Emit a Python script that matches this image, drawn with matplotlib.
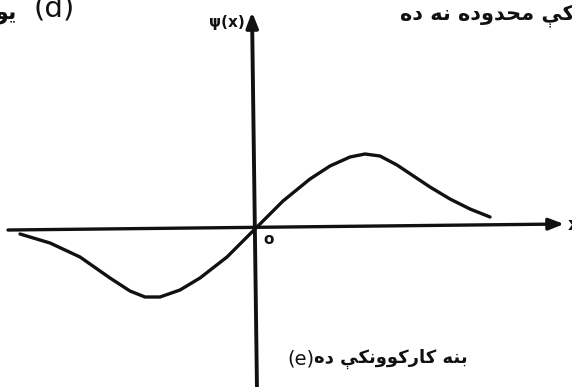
import matplotlib
matplotlib.use("Agg")
import matplotlib.pyplot as plt

# Wave function psi(x): odd, with one trough left of the origin and one crest to the right
x_vals = [-2.35, -2.05, -1.75, -1.45, -1.25, -1.10, -0.95, -0.75, -0.55, -0.28,
          0.00, 0.28, 0.55, 0.75, 0.95, 1.10, 1.25, 1.42, 1.60, 1.75, 1.95, 2.15, 2.35]
psi_vals = [-0.05, -0.14, -0.28, -0.49, -0.62, -0.68, -0.68, -0.61, -0.49, -0.28,
            0.00, 0.28, 0.50, 0.63, 0.72, 0.75, 0.73, 0.64, 0.52, 0.42, 0.30, 0.20, 0.12]

# Labels (Pashto written with presentation forms in display order)
y_label = "ψ(x)"
x_label = "x"
origin_label = "o"
top_left_ar = "\uFEEE\uFEF3"
top_left_tag = "(d)"
top_right_ar = ("\uFEE9\uFEA9 \uFEEA\uFEE7 \uFEE9\uFEA9\uFEED\uFEAA\uFEA4\uFEE3 "
                "\uFBE5\uFB90")
bottom_tag = "(e)"
bottom_ar = ("\uFEE9\uFEA9 "
             "\uFBE5\uFB91\uFEE7\uFEED\uFEEE\uFB90\uFEAD\uFE8E\uFB90 "
             "\uFEEA\uFEE8\uFE91")

fig = plt.figure(figsize=(5.72, 3.87), dpi=100)
ax = fig.add_axes([0, 0, 1, 1])
ax.set_xlim(-2.55, 3.17)
ax.set_ylim(-1.58, 2.29)
ax.axis("off")

ink = "#111111"

# Axes drawn as arrows through the origin
ax.annotate("", xy=(3.09, 0.05), xytext=(-2.47, -0.01),
            arrowprops=dict(arrowstyle="-|>,head_length=0.9,head_width=0.35",
                            color=ink, lw=2.4, shrinkA=0, shrinkB=0))
ax.annotate("", xy=(-0.03, 2.17), xytext=(0.02, -1.62),
            arrowprops=dict(arrowstyle="-|>,head_length=0.9,head_width=0.35",
                            color=ink, lw=2.8, shrinkA=0, shrinkB=0))

# The curve
ax.plot(x_vals, psi_vals, color=ink, lw=2.4, solid_capstyle="round",
        solid_joinstyle="round")

# Axis labels
ax.text(-0.10, 2.07, y_label, ha="right", va="center", fontsize=11,
        fontweight="bold", family="DejaVu Sans", color=ink)
ax.text(3.13, 0.04, x_label, ha="left", va="center", fontsize=13,
        fontweight="bold", family="DejaVu Sans", color=ink)
ax.text(0.08, -0.10, origin_label, ha="left", va="center", fontsize=11,
        fontweight="bold", family="DejaVu Sans", color=ink)

# Caption fragments
ax.text(-2.60, 2.15, top_left_ar, ha="left", va="center", fontsize=16,
        fontweight="bold", family="DejaVu Sans", color=ink)
ax.text(-2.21, 2.20, top_left_tag, ha="left", va="center", fontsize=21,
        family="DejaVu Sans", color=ink)
ax.text(3.20, 2.13, top_right_ar, ha="right", va="center", fontsize=15,
        fontweight="bold", family="DejaVu Sans", color=ink)
ax.text(0.32, -1.30, bottom_tag, ha="left", va="center", fontsize=14,
        family="DejaVu Sans", color=ink)
ax.text(0.59, -1.30, bottom_ar, ha="left", va="center", fontsize=13,
        fontweight="bold", family="DejaVu Sans", color=ink)

fig.savefig("out.png", dpi=100)
